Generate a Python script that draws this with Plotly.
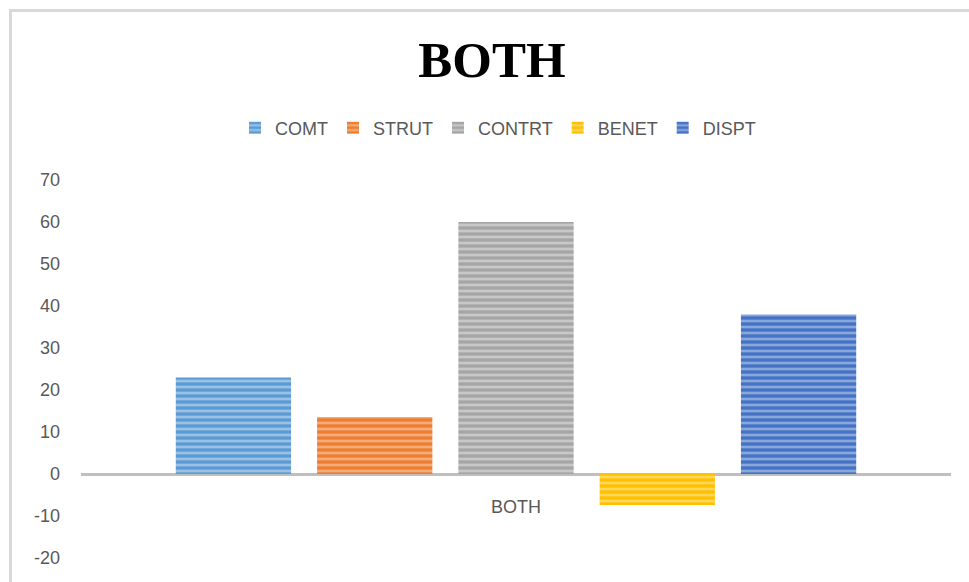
import plotly.graph_objects as go

categories = ["BOTH"]
series_names = ["COMT", "STRUT", "CONTRT", "BENET", "DISPT"]
series_values = [[23], [13.6], [60], [-7.4], [38]]
base_colors = ["#5b9bd5", "#ed7d31", "#a5a5a5", "#ffc000", "#4472c4"]
stripe_colors = ["#dbe8f6", "#fbdcc6", "#ececec", "#ffeeb8", "#d0dbf1"]
y_ticks = [-20, -10, 0, 10, 20, 30, 40, 50, 60, 70]
y_tick_labels = ["-20", "-10", "0", "10", "20", "30", "40", "50", "60", "70"]

fig = go.Figure()
for name, vals, c, s in zip(series_names, series_values, base_colors, stripe_colors):
    fig.add_trace(go.Bar(
        x=categories, y=vals, name=name,
        marker=dict(color=c, line=dict(width=0),
                    pattern=dict(shape="-", fgcolor=s, size=6, solidity=0.45,
                                 fillmode="overlay")),
    ))

W, H = 969, 582
L, R, T, B = 81, 18, 180, 24
pw, ph = W - L - R, H - T - B

def px_x(p):
    return (p - L) / pw

def px_y(p):
    return 1 - (p - T) / ph

fig.update_layout(
    width=W, height=H,
    margin=dict(l=L, r=R, t=T, b=B, pad=0),
    paper_bgcolor="white", plot_bgcolor="white",
    barmode="group", bargap=0.188, bargroupgap=0.184,
    font=dict(family="Liberation Sans", size=18, color="#595959"),
    title=dict(text="<b>BOTH</b>", x=492 / W, xref="container", xanchor="center",
               y=1 - 59 / H, yref="container", yanchor="middle",
               font=dict(family="Liberation Serif", size=51, color="black")),
    legend=dict(orientation="h", x=px_x(498), xanchor="center",
                y=px_y(128), yanchor="middle", itemwidth=30,
                font=dict(size=18, color="#595959"), traceorder="normal"),
    showlegend=True,
    xaxis=dict(showgrid=False, showline=False, ticks="", anchor="free",
               position=(558 - 474) / ph, ticklabelstandoff=20,
               tickfont=dict(size=18, color="#595959")),
    yaxis=dict(range=[-20, 70], tickvals=y_ticks, ticktext=y_tick_labels,
               showgrid=False, showline=False,
               ticks="", zeroline=True, zerolinecolor="#bfbfbf", zerolinewidth=3,
               ticklabelstandoff=20, tickfont=dict(size=18, color="#595959")),
    shapes=[
        dict(type="line", xref="paper", yref="paper", x0=px_x(10.5), x1=px_x(969),
             y0=px_y(10.5), y1=px_y(10.5), line=dict(color="#d9d9d9", width=3)),
        dict(type="line", xref="paper", yref="paper", x0=px_x(10.5), x1=px_x(10.5),
             y0=px_y(9), y1=px_y(582), line=dict(color="#d9d9d9", width=3)),
    ],
)

fig.write_html("out.html")
